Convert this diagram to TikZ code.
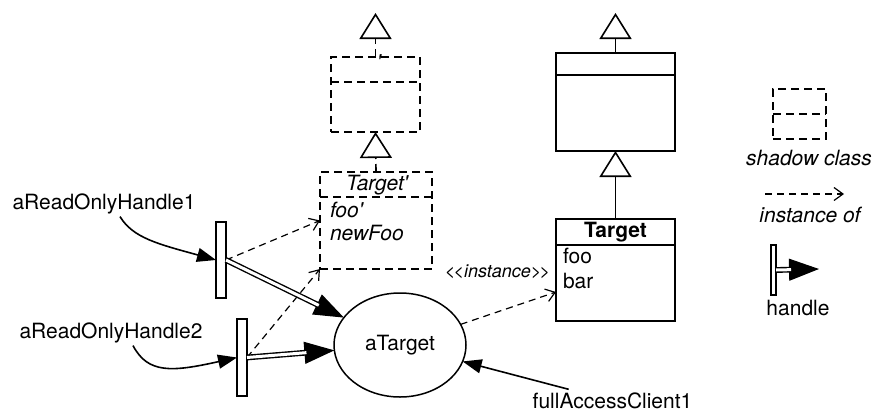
\documentclass[tikz,border=0pt]{standalone}
\usepackage{fontspec}
\newfontfamily\hv{TeX Gyre Heros}
\usetikzlibrary{arrows.meta,calc,shapes.geometric}
\begin{document}
\begin{tikzpicture}[x=0.5pt,y=-0.5pt,
  font=\hv\fontsize{10.5}{12}\selectfont,
  every node/.style={inner sep=0pt, outer sep=0pt},
  ln/.style={line width=0.8pt},
  dsh/.style={line width=0.8pt, dash pattern=on 4pt off 2.5pt},
  cls/.style={draw, line width=0.8pt, rectangle, fill=white},
  shcls/.style={draw, line width=0.8pt, dash pattern=on 4pt off 2.5pt, rectangle},
  gen/.style={-{Triangle[open, fill=white, length=13pt, width=16pt, line width=0.8pt]}},
  inst/.style={line width=0.6pt, dash pattern=on 3.5pt off 2.5pt, -{Straight Barb[length=4.5pt,width=6.5pt,line width=0.6pt]}},
  ptr/.style={line width=0.8pt, -{Triangle[length=9.5pt,width=7pt]}},
  hbar/.style={draw, line width=0.8pt, fill=white, rectangle},
  htip/.style={line width=0.6pt, -{Triangle[length=15pt,width=11pt]}},
  hshaft/.style={double, line width=0.7pt, double distance=1.5pt, shorten >=14pt},
  lbl/.style={anchor=base},
  lblw/.style={anchor=base west},
]
\useasboundingbox (0,0) rectangle (877,412);

% ---- shadow classes (left)
\node[shcls, minimum width=44.5pt, minimum height=37.5pt] (sc1) at (375.5,94.5) {};
\draw[dsh] (sc1.west |- 0,82) -- (sc1.east |- 0,82);
\node[lbl] (sc1t) at (379,69) {\itshape '};
\coordinate (g1) at (375.5,13);
\draw[dsh, gen] (sc1.north) -- (g1);

\node[shcls, minimum width=56pt, minimum height=48.5pt] (tp) at (376,220.5) {};
\draw[dsh] (tp.west |- 0,197) -- (tp.east |- 0,197);
\draw[dsh, gen] (tp.north) -- (sc1.south);
\node[lbl] (tpt) at (377,190) {\itshape Target'};
\node[lblw] (tpa1) at (330,217) {\itshape foo'};
\node[lblw] (tpa2) at (330,240) {\itshape newFoo};

% ---- real classes (right)
\node[cls, minimum width=59.5pt, minimum height=49pt] (sup) at (615.5,102) {};
\draw[ln] (sup.west |- 0,75) -- (sup.east |- 0,75);
\coordinate (g2) at (615.5,13);
\draw[ln, gen] (sup.north) -- (g2);

\node[cls, minimum width=59.5pt, minimum height=51pt] (tg) at (615.5,270) {};
\draw[ln] (tg.west |- 0,245) -- (tg.east |- 0,245);
\draw[ln, gen] (tg.north) -- (sup.south);
\node[lbl] (tgt) at (615.5,237) {\bfseries Target};
\node[lblw] (tga1) at (563,263) {foo};
\node[lblw] (tga2) at (563,288) {bar};

% ---- object
\node[draw, ellipse, line width=0.75pt, minimum width=66pt, minimum height=52pt] (aT) at (400,345) {aTarget};

% ---- handles
\node[hbar, minimum width=5pt, minimum height=38pt] (h1) at (221,260) {};
\node[hbar, minimum width=5pt, minimum height=38.5pt] (h2) at (242,357.5) {};

\draw[inst] (h1.east) -- (tp.west);
\draw[inst] (h2.east) -- (tp.south west);

\draw[htip] (h1.east) -- (aT);
\draw[hshaft] (h1.east) -- (aT);
\draw[htip] (h2.east) -- (aT);
\draw[hshaft] (h2.east) -- (aT);

% ---- labels with pointers
\node[lbl] (l1) at (104,209) {aReadOnlyHandle1};
\node[lbl] (l2) at (111,338) {aReadOnlyHandle2};
\node[lbl] (fa) at (612.5,408) {fullAccessClient1};

\draw[ptr] ($(l1.south)+(16,3)$) .. controls (133,238) and (158,244) .. (h1.west);
\draw[ptr] ($(l2.south)+(22,3)$) .. controls (148,374) and (172,372) .. (h2.west);
\draw[ptr] ($(fa.north west)+(36,-3)$) -- (aT);

% ---- instance-of relation
\draw[inst] (aT) -- ([yshift=-11pt]tg.west);
\node[lbl, font=\hv\fontsize{9}{10}\selectfont\itshape] (instl) at (497.5,277) {<\kern-0.9pt<instance>\kern-0.9pt>};

% ---- legend
\node[shcls, minimum width=26.5pt, minimum height=25pt] (lg) at (799.5,114) {};
\draw[dsh] (lg.west |- 0,114) -- (lg.east |- 0,114);
\node[lbl] (lgt) at (809,165) {\itshape shadow class};

\coordinate (la1) at (765,194);
\coordinate (la2) at (844,194);
\draw[inst] (la1) -- (la2);
\node[lbl] (lat) at (810,222) {\itshape instance of};

\node[hbar, minimum width=2.5pt, minimum height=25pt] (hl) at (773.5,270) {};
\coordinate (hlt) at (819,269);
\draw[htip] (hl.east) -- (hlt);
\draw[hshaft] (hl.east) -- (hlt);
\node[lbl] (hlx) at (798,315) {handle};
\end{tikzpicture}
\end{document}
